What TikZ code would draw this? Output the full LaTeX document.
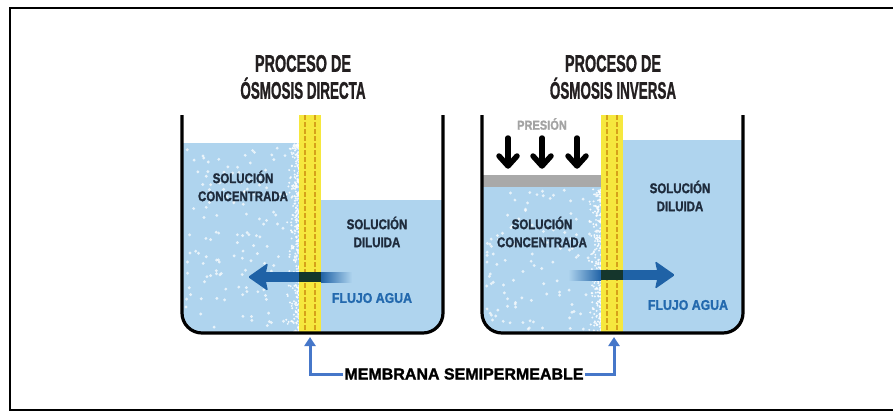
\documentclass[tikz,border=0pt]{standalone}
\usepackage{fontspec}
\setmainfont{Liberation Sans}
\newfontfamily\heavyfont[BoldFeatures={FakeBold=1.6}]{Liberation Sans}
\usetikzlibrary{arrows.meta}

\definecolor{water}{HTML}{AFD4EE}
\definecolor{flow}{HTML}{1F62A6}
\definecolor{flowdark}{HTML}{15362C}
\definecolor{membfill}{HTML}{F6E83E}
\definecolor{membdash}{HTML}{D6A21A}
\definecolor{labelink}{HTML}{1E2B3C}
\definecolor{titleink}{HTML}{231F20}
\definecolor{flowink}{HTML}{2369AE}
\definecolor{pressink}{HTML}{A3A3A3}
\definecolor{plate}{HTML}{A9A9A9}
\definecolor{bracket}{HTML}{4677C9}

% horizontally condensed text
\newcommand{\cond}[2]{\scalebox{#1}[1]{#2}}

\tikzset{
  tankwall/.style={line width=3.2pt, black, rounded corners=20pt},
  membrane/.style={fill=membfill, draw=none},
  membline/.style={membdash, line width=1.2pt, dash pattern=on 5pt off 2pt},
  titletext/.style={font=\heavyfont\bfseries\fontsize{24}{27}\selectfont, text=titleink, align=center, inner sep=0pt},
  labeltext/.style={font=\heavyfont\bfseries\fontsize{14}{18}\selectfont, text=labelink, align=center, inner sep=0pt},
  flowtext/.style={font=\heavyfont\bfseries\fontsize{14}{16}\selectfont, text=flowink, inner sep=0pt},
  presstext/.style={font=\heavyfont\bfseries\fontsize{13}{15}\selectfont, text=pressink, inner sep=0pt},
  membtext/.style={font=\heavyfont\bfseries\fontsize{16}{18}\selectfont, text=black, inner sep=1pt},
  pressarrow/.style={line width=5.5pt, black, line cap=round, line join=round},
  bracketline/.style={line width=3pt, bracket, -{Triangle[length=9pt,width=11pt]}},
  dot/.style={fill=white, opacity=0.7},
}

\begin{document}
\begin{tikzpicture}[x=1pt,y=-1pt]
\useasboundingbox (0,0) rectangle (893,412);

% outer frame (open on the right)
\draw[line width=2.5pt] (896,8) -- (10,8) -- (10,410) -- (896,410);

% ---------------- left tank: direct osmosis ----------------
\begin{scope}
  \clip (182,100) [rounded corners=20pt] -- (182,333) -- (443,333) -- (443,100) -- cycle;
  \fill[water] (170,143) rectangle (299,340);
  \fill[water] (321,200) rectangle (450,340);
  \pgfmathsetseed{11}
  \foreach \i in {1,...,130}{
    \pgfmathsetmacro\dx{186+100*rnd}
    \pgfmathsetmacro\dy{147+183*rnd}
    \fill[dot] (\dx,\dy) circle (1.6);
  }
  \foreach \i in {1,...,300}{
    \pgfmathsetmacro\dx{299-14*rnd*rnd}
    \pgfmathsetmacro\dy{144+190*rnd}
    \fill[white, opacity=0.85] (\dx,\dy) circle (1.1);
  }
\end{scope}
\fill[membrane] (299,115) rectangle (321,333);
\draw[membline] (305,115) -- (305,333);
\draw[membline] (315,115) -- (315,333);
% water flow arrow, right to left
\fill[flow] (262,272) rectangle (299,282);
\fill[flowdark] (299,272) rectangle (321,282);
\shade[left color=flow, right color=water] (321,272) rectangle (352,282);
\fill[flow, rounded corners=1.5pt] (248,277) -- (268,263) -- (265,277) -- (268,291) -- cycle;
\draw[tankwall] (182,115) -- (182,333) -- (443,333) -- (443,115);

% ---------------- right tank: reverse osmosis ----------------
\begin{scope}
  \clip (482,100) [rounded corners=20pt] -- (482,333) -- (743,333) -- (743,100) -- cycle;
  \fill[water] (470,187) rectangle (601,340);
  \fill[water] (623,140) rectangle (750,340);
  \pgfmathsetseed{23}
  \foreach \i in {1,...,105}{
    \pgfmathsetmacro\dx{486+104*rnd}
    \pgfmathsetmacro\dy{190+140*rnd}
    \fill[dot] (\dx,\dy) circle (1.6);
  }
  \foreach \i in {1,...,240}{
    \pgfmathsetmacro\dx{601-14*rnd*rnd}
    \pgfmathsetmacro\dy{188+146*rnd}
    \fill[white, opacity=0.85] (\dx,\dy) circle (1.1);
  }
\end{scope}
% piston plate
\fill[plate] (482,175) rectangle (601,187);
\fill[membrane] (601,115) rectangle (623,333);
\draw[membline] (607,115) -- (607,333);
\draw[membline] (617,115) -- (617,333);
% water flow arrow, left to right
\shade[left color=water, right color=flow] (568,270) rectangle (601,280);
\fill[flowdark] (601,270) rectangle (623,280);
\fill[flow] (623,270) rectangle (660,280);
\fill[flow, rounded corners=1.5pt] (675,275) -- (655,261) -- (658,275) -- (655,289) -- cycle;
\draw[tankwall] (482,115) -- (482,333) -- (743,333) -- (743,115);

% pressure arrows
\foreach \px in {508,542,577}{
  \draw[pressarrow] (\px,138) -- (\px,164);
  \draw[pressarrow] (\px-9,156) -- (\px,166) -- (\px+9,156);
}

% ---------------- texts ----------------
\node[titletext] (titleL) at (303,77) {\cond{0.6}{PROCESO DE}\\\cond{0.56}{ÓSMOSIS DIRECTA}};
\node[titletext] (titleR) at (613,77) {\cond{0.6}{PROCESO DE}\\\cond{0.56}{ÓSMOSIS INVERSA}};

\node[labeltext] (concL) at (243,186) {\cond{0.82}{SOLUCIÓN}\\\cond{0.82}{CONCENTRADA}};
\node[labeltext] (dilL) at (377,232) {\cond{0.82}{SOLUCIÓN}\\\cond{0.82}{DILUIDA}};
\node[flowtext] (flowL) at (372,298) {\cond{0.88}{FLUJO AGUA}};

\node[presstext] (press) at (542,124) {\cond{0.85}{PRESIÓN}};
\node[labeltext] (dilR) at (680,196) {\cond{0.82}{SOLUCIÓN}\\\cond{0.82}{DILUIDA}};
\node[labeltext] (concR) at (542,232) {\cond{0.82}{SOLUCIÓN}\\\cond{0.82}{CONCENTRADA}};
\node[flowtext] (flowR) at (688,305) {\cond{0.88}{FLUJO AGUA}};

% membrane callout
\node[membtext] (memb) at (464,374) {MEMBRANA SEMIPERMEABLE};
\coordinate (tipL) at (310,337);
\coordinate (tipR) at (614,337);
\draw[bracketline] (memb.west) -| (tipL);
\draw[bracketline] (memb.east) -| (tipR);

\end{tikzpicture}
\end{document}
